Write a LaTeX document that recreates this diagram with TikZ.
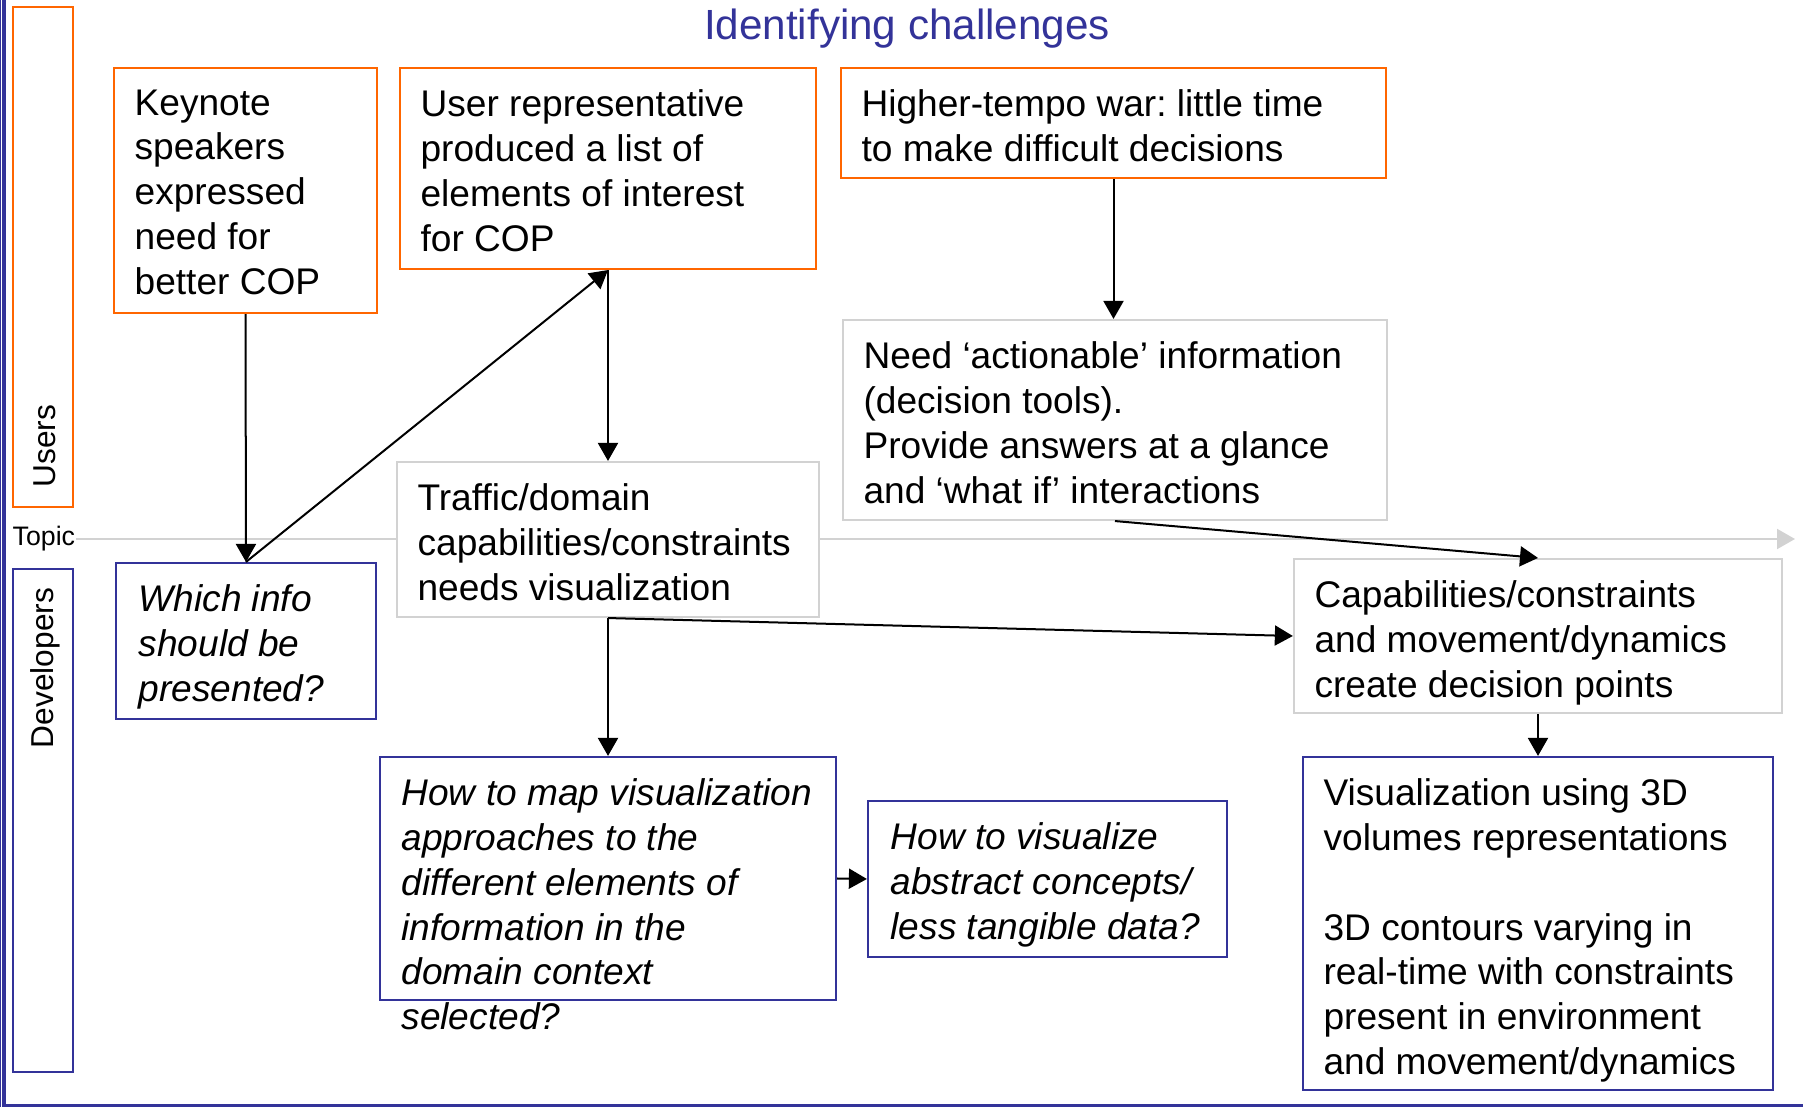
\documentclass[tikz,border=0pt]{standalone}
\usepackage{fontspec}
\setmainfont{Liberation Sans}
\usetikzlibrary{arrows.meta}
\frenchspacing

\definecolor{orng}{RGB}{255,102,0}
\definecolor{navy}{RGB}{51,51,153}
\definecolor{lgray}{RGB}{210,210,210}

\begin{document}
\begin{tikzpicture}[x=0.01cm, y=-0.01cm,
    box/.style={draw, fill=white, line width=0.02cm, inner sep=0pt},
    userbox/.style={box, draw=orng},
    devbox/.style={box, draw=navy},
    topicbox/.style={box, draw=lgray},
    txt/.style={anchor=north west, inner sep=0pt, align=left, font=\fontsize{10.55}{12.75}\selectfont},
    qtxt/.style={txt, font=\fontsize{10.55}{12.75}\selectfont\itshape},
    arr/.style={-{Triangle[length=0.18cm, width=0.2cm]}, line width=0.02cm},
    lane/.style={font=\fontsize{9}{11}\selectfont, rotate=90, inner sep=0pt}]

    \useasboundingbox (0,0) rectangle (1803,1107);

    \draw[navy, line width=0.03cm] (4,0) -- (4,1105) -- (1803,1105);
    \draw[navy, line width=0.01cm] (1,0) -- (1,1107);

    \node[navy, font=\fontsize{12}{14}\selectfont, anchor=base] (title) at (907,40) {Identifying challenges};

    \node[anchor=west, inner sep=0pt, font=\fontsize{7.6}{9}\selectfont] (topic) at (12,539) {Topic};
    \coordinate (topicend) at (1795,539);
    \draw[lgray, line width=0.02cm, -{Triangle[length=0.18cm, width=0.2cm]}] (topic.east) -- (topicend);

    \node[userbox, minimum width=0.6cm, minimum height=5cm] (users) at (43,257) {};
    \node[devbox, minimum width=0.6cm, minimum height=5.03cm] (devs) at (43,820.5) {};
    \node[lane] (userslbl) at (45,446) {Users};
    \node[lane] (devslbl) at (45,668) {Developers};

    \node[userbox, minimum width=2.63cm, minimum height=2.45cm] (keynote) at (245.5,190.5) {};
    \node[userbox, minimum width=4.16cm, minimum height=2.01cm] (userrep) at (608,168.5) {};
    \node[userbox, minimum width=5.45cm, minimum height=1.10cm] (tempo) at (1113.5,123) {};
    \node[topicbox, minimum width=5.44cm, minimum height=2.00cm] (need) at (1115,420) {};
    \node[topicbox, minimum width=4.22cm, minimum height=1.55cm] (traffic) at (608,539.5) {};
    \node[devbox, minimum width=2.60cm, minimum height=1.56cm] (which) at (246,641) {};
    \node[topicbox, minimum width=4.88cm, minimum height=1.54cm] (capab) at (1538,636) {};
    \node[devbox, minimum width=4.56cm, minimum height=2.43cm] (howmap) at (608,878.5) {};
    \node[devbox, minimum width=3.59cm, minimum height=1.56cm] (abstract) at (1047.5,879) {};
    \node[devbox, minimum width=4.70cm, minimum height=3.33cm] (visual) at (1538,923.5) {};

    \draw[arr] (keynote.south) -- (which.north);
    \draw[arr] (which.north) -- (userrep.south);
    \draw[arr] (userrep.south) -- (traffic.north);
    \draw[arr] (tempo.south) -- (tempo.south |- need.north);
    \draw[arr] (need.south) -- (capab.north);
    \draw[arr] (traffic.south) -- (capab.west);
    \draw[arr] (traffic.south) -- (howmap.north);
    \draw[arr] (capab.south) -- (visual.north);
    \draw[arr] (howmap.east) -- (abstract.west);

    \node[txt] (keynotetxt) at ([shift={(21,22)}]keynote.north west) {Keynote\\speakers\\expressed\\need for\\better COP};
    \node[txt] (userreptxt) at ([shift={(21,22)}]userrep.north west) {User representative\\produced a list of\\elements of interest\\for COP};
    \node[txt] (tempotxt) at ([shift={(21,22)}]tempo.north west) {Higher-tempo war: little time\\to make difficult decisions};
    \node[txt] (needtxt) at ([shift={(21,22)}]need.north west) {Need ‘actionable’ information\\(decision tools).\\Provide answers at a glance\\and ‘what if’ interactions};
    \node[txt] (traffictxt) at ([shift={(21,22)}]traffic.north west) {Traffic/domain\\capabilities/constraints\\needs visualization};
    \node[qtxt] (whichtxt) at ([shift={(23,22)}]which.north west) {Which info\\should be\\presented?};
    \node[txt] (capabtxt) at ([shift={(21,22)}]capab.north west) {Capabilities/constraints\\and movement/dynamics\\create decision points};
    \node[qtxt] (howmaptxt) at ([shift={(22,22)}]howmap.north west) {How to map visualization\\approaches to the\\different elements of\\information in the\\domain context\\selected?};
    \node[qtxt] (abstracttxt) at ([shift={(23,22)}]abstract.north west) {How to visualize\\abstract concepts/\\less tangible data?};
    \node[txt] (visualtxt) at ([shift={(21,22)}]visual.north west) {Visualization using 3D\\volumes representations\\[12.75pt]3D contours varying in\\real-time with constraints\\present in environment\\and movement/dynamics};

\end{tikzpicture}
\end{document}
